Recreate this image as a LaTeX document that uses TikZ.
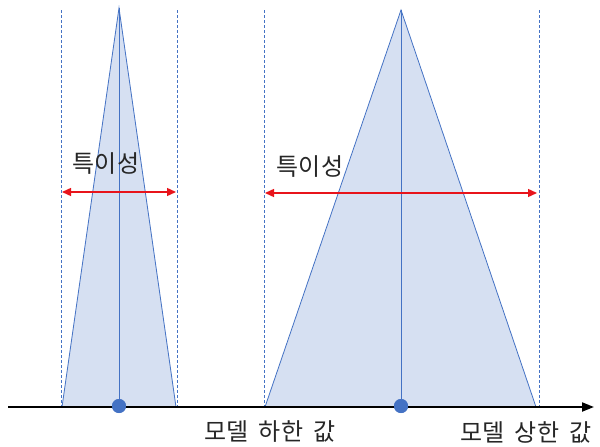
\documentclass[tikz,border=0pt]{standalone}
\usepackage{fontspec}
\newfontfamily\kr{Noto Sans CJK KR}[WordSpace=2]
\usetikzlibrary{arrows.meta}
\definecolor{triblue}{HTML}{4472C4}
\definecolor{trifill}{HTML}{D6E0F2}
\definecolor{arrred}{HTML}{E8141B}
\tikzset{
  tri/.style={draw=triblue, fill=trifill, line width=0.8pt, line join=miter},
  guide/.style={draw=triblue, dashed, dash pattern=on 3pt off 2pt, line width=0.6pt},
  centerline/.style={draw=triblue, line width=0.9pt},
  meanpt/.style={circle, fill=triblue, inner sep=0pt, minimum size=14pt},
  spec/.style={draw=arrred, line width=1.4pt, {Triangle[length=9pt,width=8pt]}-{Triangle[length=9pt,width=8pt]}},
  axisline/.style={draw=black, line width=2pt, -{Triangle[length=12pt,width=9pt]}},
  lbl/.style={font=\kr\fontsize{24}{28}\selectfont, text=black!85, inner sep=0pt}
}
\begin{document}
\begin{tikzpicture}[x=1pt,y=-1pt]
\useasboundingbox (0,0) rectangle (600,447);
% coordinates
\coordinate (LA) at (119,8);
\coordinate (LL) at (62,407);
\coordinate (LR) at (176,407);
\coordinate (RA) at (401,10);
\coordinate (RL) at (265,407);
\coordinate (RR) at (536,407);
\coordinate (AxS) at (8,407);
\coordinate (AxE) at (594,407);
% triangles
\path[tri] (LL) -- (LA) -- (LR) -- cycle;
\path[tri] (RL) -- (RA) -- (RR) -- cycle;
% dashed guides
\coordinate (g1t) at (61,10); \coordinate (g1b) at (61,407);
\coordinate (g2t) at (177,10); \coordinate (g2b) at (177,407);
\coordinate (g3t) at (264,10); \coordinate (g3b) at (264,407);
\coordinate (g4t) at (539,10); \coordinate (g4b) at (539,407);
\draw[guide] (g1t) -- (g1b);
\draw[guide] (g2t) -- (g2b);
\draw[guide] (g3t) -- (g3b);
\draw[guide] (g4t) -- (g4b);
% axis
\draw[axisline] (AxS) -- (AxE);
% centre lines and points
\node[meanpt] (LM) at (119,406) {};
\node[meanpt] (RM) at (401,406) {};
\draw[centerline] (LA) -- (LM.center);
\draw[centerline] (RA) -- (RM.center);
\node[meanpt] at (119,406) {};
\node[meanpt] at (401,406) {};
% red arrows
\coordinate (s1a) at (62,192); \coordinate (s1b) at (176,192);
\coordinate (s2a) at (265,193); \coordinate (s2b) at (537,193);
\draw[spec] (s1a) -- (s1b);
\draw[spec] (s2a) -- (s2b);
% labels
\node[lbl] (t1) at (106,164) {특이성};
\node[lbl] (t2) at (310,167) {특이성};
\node[lbl] (lo) at (270,432) {모델 하한 값};
\node[lbl] (hi) at (526,432) {모델 상한 값};
\end{tikzpicture}
\end{document}
